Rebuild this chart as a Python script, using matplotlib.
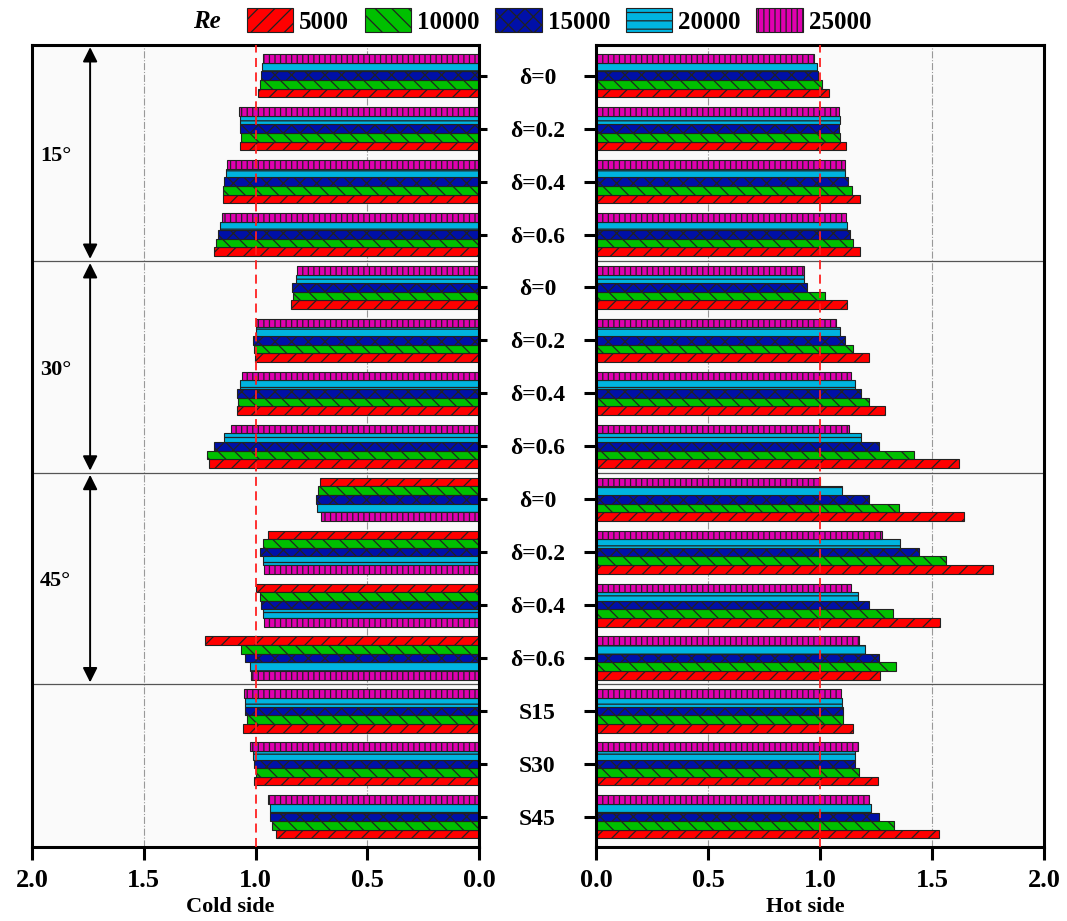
import matplotlib
matplotlib.use('Agg')
import matplotlib.pyplot as plt
import numpy as np
from matplotlib.patches import Patch

plt.rcParams['font.family'] = ['Liberation Serif', 'DejaVu Serif']
plt.rcParams['font.weight'] = 'bold'
plt.rcParams['hatch.linewidth'] = 0.9
plt.rcParams['hatch.color'] = 'black'

# ---------------- data ----------------
group_labels = ['δ=0', 'δ=0.2', 'δ=0.4', 'δ=0.6',
                'δ=0', 'δ=0.2', 'δ=0.4', 'δ=0.6',
                'δ=0', 'δ=0.2', 'δ=0.4', 'δ=0.6',
                'S15', 'S30', 'S45']
angle_labels = ['15°', '30°', '45°']
re_labels = ['5000', '10000', '15000', '20000', '25000']

cold_5000 = [0.987, 1.069, 1.146, 1.185, 0.842, 1.003, 1.084, 1.207,
             0.713, 0.946, 0.996, 1.224, 1.057, 1.006, 0.909]
cold_10000 = [0.978, 1.066, 1.145, 1.175, 0.834, 1.006, 1.079, 1.216,
              0.722, 0.967, 0.981, 1.064, 1.039, 1.000, 0.925]
cold_15000 = [0.976, 1.069, 1.143, 1.170, 0.836, 1.010, 1.081, 1.185,
              0.730, 0.979, 0.976, 1.045, 1.045, 1.007, 0.934]
cold_20000 = [0.972, 1.069, 1.134, 1.158, 0.819, 0.999, 1.069, 1.143,
              0.724, 0.966, 0.966, 1.025, 1.046, 1.010, 0.937]
cold_25000 = [0.966, 1.072, 1.128, 1.151, 0.815, 0.996, 1.061, 1.110,
              0.707, 0.964, 0.963, 1.018, 1.051, 1.025, 0.943]

hot_5000 = [1.042, 1.116, 1.179, 1.179, 1.119, 1.219, 1.290, 1.619,
            1.643, 1.772, 1.536, 1.268, 1.147, 1.260, 1.531]
hot_10000 = [1.007, 1.089, 1.143, 1.147, 1.022, 1.146, 1.220, 1.418,
             1.351, 1.563, 1.326, 1.338, 1.104, 1.174, 1.329]
hot_15000 = [0.993, 1.086, 1.125, 1.132, 0.942, 1.112, 1.185, 1.263,
             1.217, 1.442, 1.220, 1.265, 1.101, 1.158, 1.265]
hot_20000 = [0.985, 1.089, 1.112, 1.119, 0.930, 1.088, 1.158, 1.182,
             1.097, 1.356, 1.171, 1.201, 1.097, 1.158, 1.226]
hot_25000 = [0.973, 1.085, 1.110, 1.118, 0.927, 1.070, 1.137, 1.128,
             1.000, 1.275, 1.140, 1.174, 1.094, 1.168, 1.219]

cold = [cold_5000, cold_10000, cold_15000, cold_20000, cold_25000]
hot = [hot_5000, hot_10000, hot_15000, hot_20000, hot_25000]

# left-panel groups drawn with reversed bar order (45° groups)
cold_reversed = [8, 9, 10, 11]

colors = ['#ff0000', '#00c000', '#0010a8', '#00b4e0', '#e000b0']
hatches = ['//', '\\\\', 'xx', '--', '|||']

# ---------------- figure ----------------
fig = plt.figure(figsize=(10.67, 9.21), dpi=100)
fig.patch.set_facecolor('white')
axL = fig.add_axes([32/1067, 1-847/921, 447/1067, 802/921])
axR = fig.add_axes([596/1067, 1-847/921, 448/1067, 802/921])

n = len(group_labels)
y = np.arange(n)
h = 0.163

for ax, data, rev in ((axL, cold, cold_reversed), (axR, hot, [])):
    ax.set_facecolor('#fafafa')
    for gx in (0.5, 1.5):
        ax.axvline(gx, color='#999999', lw=0.8, ls='-.', zorder=0.5)
    for s in range(5):
        offs = np.array([(s - 2) * h if i in rev else (2 - s) * h for i in range(n)])
        ax.barh(y + offs, data[s], height=h, color=colors[s], hatch=hatches[s],
                edgecolor='#222222', linewidth=0.8, zorder=2)
    ax.axvline(1.0, color='#ff2020', lw=1.3, ls=(0, (5, 3)), zorder=3)
    for sep in (3.5, 7.5, 11.5):
        ax.axhline(sep, color='#555555', lw=0.9, zorder=1)
    ax.set_ylim(14.57, -0.58)
    ax.set_xticks([0, 0.5, 1.0, 1.5, 2.0])
    ax.set_xticklabels(['0.0', '0.5', '1.0', '1.5', '2.0'])
    for sp in ax.spines.values():
        sp.set_linewidth(2.2)
    ax.tick_params(axis='x', direction='out', length=9, width=2.2,
                   labelsize=19, pad=7)

axL.set_xlim(2.0, 0.0)
axR.set_xlim(0.0, 2.0)

# y ticks: labels between the panels, attached to left panel's right side
axL.yaxis.tick_right()
axL.set_yticks(y)
axL.set_yticklabels(group_labels)
axL.tick_params(axis='y', direction='out', length=6, width=2.2,
                labelsize=17, pad=36)
for lab in axL.get_yticklabels():
    lab.set_ha('center')
axR.set_yticks(y)
axR.set_yticklabels([])
axR.tick_params(axis='y', direction='out', length=9, width=2.2)

axL.set_xlabel('Cold side', fontsize=16, fontweight='bold')
axR.set_xlabel('Hot side', fontsize=16, fontweight='bold')
axL.xaxis.set_label_coords(0.443, -0.062)
axR.xaxis.set_label_coords(0.467, -0.062)

# angle arrows and labels
spans = [(-0.58, 3.5), (3.5, 7.5), (7.5, 11.5)]
for (a, b), lab in zip(spans, angle_labels):
    axL.annotate('', xy=(1.74, a + 0.04), xytext=(1.74, b - 0.04),
                 arrowprops=dict(arrowstyle='<|-|>', color='black', lw=1.4,
                                 mutation_scale=22,
                                 shrinkA=0, shrinkB=0), zorder=4)
    axL.text(1.965, (a + b) / 2 + 0.05, lab, fontsize=16, fontweight='bold',
             ha='left', va='center')

# legend
handles = [Patch(facecolor=colors[s], hatch=hatches[s], edgecolor='#222222',
                 linewidth=0.8) for s in range(5)]
fig.legend(handles, re_labels, loc='center', bbox_to_anchor=(0.524, 0.977),
           ncol=5, frameon=False, fontsize=18, handlelength=1.85,
           handleheight=1.1, handletextpad=0.25, columnspacing=0.62,
           borderpad=0.1)
fig.text(207/1067, 0.977, 'Re', fontsize=18, fontweight='bold',
         fontstyle='italic', ha='center', va='center')

fig.savefig('out.png', dpi=100, facecolor='white')
